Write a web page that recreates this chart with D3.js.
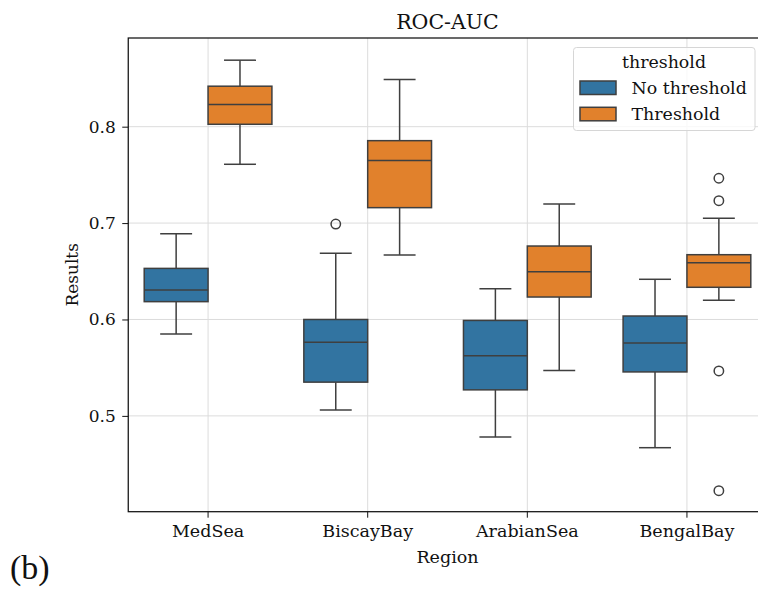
<!DOCTYPE html>
<html>
<head>
<meta charset="utf-8">
<script src="https://cdn.jsdelivr.net/npm/d3@7"></script>
<style>
  body { margin: 0; background: #fff; }
</style>
</head>
<body>
<div id="chart"></div>
<script>
const width = 758;
const height = 592;
const margin = { top: 38, right: -8.75, bottom: 80.3, left: 128.25 };
const serif = 'DejaVu Serif';

// data (box summaries per region and hue)
const regions = ['MedSea', 'BiscayBay', 'ArabianSea', 'BengalBay'];
const hues = ['No threshold', 'Threshold'];
const colors = ['#3274a1', '#e1812c'];

// [No threshold, Threshold] per region
const whiskerLow = [[0.585, 0.761], [0.506, 0.667], [0.478, 0.547], [0.467, 0.620]];
const q1 = [[0.6185, 0.8025], [0.535, 0.716], [0.527, 0.6233], [0.5456, 0.6334]];
const median = [[0.6306, 0.823], [0.5763, 0.765], [0.5625, 0.6495], [0.5756, 0.6589]];
const q3 = [[0.653, 0.842], [0.600, 0.7855], [0.599, 0.6762], [0.6036, 0.6672]];
const whiskerHigh = [[0.689, 0.869], [0.6687, 0.849], [0.632, 0.7197], [0.6417, 0.705]];
const outliers = [[[], []], [[0.699], []], [[], []], [[], [0.7465, 0.7232, 0.5466, 0.4224]]];

const yTicks = [0.5, 0.6, 0.7, 0.8];

const svg = d3.select('#chart')
    .append('svg')
    .attr('width', width)
    .attr('height', height)
    .attr('font-family', serif)
    .style('display', 'block');

const x = d3.scaleBand()
    .domain(regions)
    .range([margin.left, width - margin.right])
    .padding(0);

const xHue = d3.scaleBand()
    .domain(hues)
    .range([x.bandwidth() * 0.1, x.bandwidth() * 0.9])
    .padding(0);

const y = d3.scaleLinear()
    .domain([0.4006, 0.892])
    .range([height - margin.bottom, margin.top]);

const plotBottom = height - margin.bottom;

// grid
svg.append('g')
    .selectAll('line')
    .data(yTicks)
    .join('line')
      .attr('x1', margin.left)
      .attr('x2', width - margin.right)
      .attr('y1', d => y(d))
      .attr('y2', d => y(d))
      .attr('stroke', '#dcdcdc')
      .attr('stroke-width', 1);

svg.append('g')
    .selectAll('line')
    .data(regions)
    .join('line')
      .attr('x1', d => x(d) + x.bandwidth() / 2)
      .attr('x2', d => x(d) + x.bandwidth() / 2)
      .attr('y1', margin.top)
      .attr('y2', plotBottom)
      .attr('stroke', '#dcdcdc')
      .attr('stroke-width', 1);

// boxes
const boxes = [];
regions.forEach((r, i) => {
    hues.forEach((h, j) => {
        boxes.push({
            region: r, hue: h, color: colors[j],
            lo: whiskerLow[i][j], q1: q1[i][j], med: median[i][j],
            q3: q3[i][j], hi: whiskerHigh[i][j], out: outliers[i][j]
        });
    });
});

const edge = '#3f3f3f';
const bw = xHue.bandwidth();

const g = svg.append('g')
    .selectAll('g')
    .data(boxes)
    .join('g')
      .attr('transform', d => `translate(${x(d.region) + xHue(d.hue)}, 0)`);

g.append('line')
    .attr('x1', bw / 2).attr('x2', bw / 2)
    .attr('y1', d => y(d.hi)).attr('y2', d => y(d.q3))
    .attr('stroke', edge).attr('stroke-width', 1.5);
g.append('line')
    .attr('x1', bw / 2).attr('x2', bw / 2)
    .attr('y1', d => y(d.q1)).attr('y2', d => y(d.lo))
    .attr('stroke', edge).attr('stroke-width', 1.5);
g.append('line')
    .attr('x1', bw / 4).attr('x2', bw * 3 / 4)
    .attr('y1', d => y(d.hi)).attr('y2', d => y(d.hi))
    .attr('stroke', edge).attr('stroke-width', 1.5);
g.append('line')
    .attr('x1', bw / 4).attr('x2', bw * 3 / 4)
    .attr('y1', d => y(d.lo)).attr('y2', d => y(d.lo))
    .attr('stroke', edge).attr('stroke-width', 1.5);
g.append('rect')
    .attr('x', 0)
    .attr('width', bw)
    .attr('y', d => y(d.q3))
    .attr('height', d => y(d.q1) - y(d.q3))
    .attr('fill', d => d.color)
    .attr('stroke', edge).attr('stroke-width', 1.5);
g.append('line')
    .attr('x1', 0).attr('x2', bw)
    .attr('y1', d => y(d.med)).attr('y2', d => y(d.med))
    .attr('stroke', edge).attr('stroke-width', 1.5);
g.selectAll('circle')
    .data(d => d.out)
    .join('circle')
      .attr('cx', bw / 2)
      .attr('cy', d => y(d))
      .attr('r', 4.7)
      .attr('fill', 'none')
      .attr('stroke', edge).attr('stroke-width', 1.5);

// axes
const yAxis = svg.append('g')
    .attr('transform', `translate(${margin.left}, 0)`)
    .call(d3.axisLeft(y).tickValues(yTicks).tickFormat(d3.format('.1f')).tickSize(6).tickPadding(6.5));
yAxis.select('.domain').remove();
yAxis.selectAll('text').attr('font-size', 17).attr('font-family', serif).attr('fill', '#111');
yAxis.selectAll('line').attr('stroke', '#111');

const xAxis = svg.append('g')
    .attr('transform', `translate(0, ${plotBottom})`)
    .call(d3.axisBottom(x).tickSize(6).tickPadding(7));
xAxis.select('.domain').remove();
xAxis.selectAll('text').attr('font-size', 17.5).attr('font-family', serif).attr('fill', '#111');
xAxis.selectAll('line').attr('stroke', '#111');

// spines
svg.append('rect')
    .attr('x', margin.left)
    .attr('y', margin.top)
    .attr('width', width - margin.right - margin.left)
    .attr('height', plotBottom - margin.top)
    .attr('fill', 'none')
    .attr('stroke', '#111')
    .attr('stroke-width', 1.25);

// labels
svg.append('text')
    .attr('x', (margin.left + width - margin.right) / 2)
    .attr('y', 28.5)
    .attr('text-anchor', 'middle')
    .attr('font-size', 20.5)
    .attr('fill', '#111')
    .text('ROC-AUC');

svg.append('text')
    .attr('x', (margin.left + width - margin.right) / 2)
    .attr('y', 563)
    .attr('text-anchor', 'middle')
    .attr('font-size', 17.5)
    .attr('fill', '#111')
    .text('Region');

svg.append('text')
    .attr('transform', `translate(78, ${(margin.top + plotBottom) / 2}) rotate(-90)`)
    .attr('text-anchor', 'middle')
    .attr('font-size', 17)
    .attr('fill', '#111')
    .text('Results');

svg.append('text')
    .attr('x', 10)
    .attr('y', 579)
    .attr('font-size', 34)
    .attr('font-family', 'Liberation Serif, serif')
    .attr('fill', '#111')
    .text('(b)');

// legend
const legend = svg.append('g').attr('transform', 'translate(573.5, 47.5)');
legend.append('rect')
    .attr('width', 181.5).attr('height', 83)
    .attr('rx', 3)
    .attr('fill', 'rgba(255,255,255,0.8)')
    .attr('stroke', '#d6d6d6');
legend.append('text')
    .attr('x', 90.5).attr('y', 20.8)
    .attr('text-anchor', 'middle')
    .attr('font-size', 17.4)
    .attr('fill', '#111')
    .text('threshold');
const items = legend.selectAll('.item')
    .data(hues)
    .join('g')
      .attr('class', 'item')
      .attr('transform', (d, i) => `translate(6.5, ${33.5 + i * 26.3})`);
items.append('rect')
    .attr('width', 36).attr('height', 13.5)
    .attr('fill', (d, i) => colors[i])
    .attr('stroke', edge).attr('stroke-width', 1.5);
items.append('text')
    .attr('x', 51.5).attr('y', 13)
    .attr('font-size', 17.4)
    .attr('fill', '#111')
    .text(d => d);
</script>
</body>
</html>
